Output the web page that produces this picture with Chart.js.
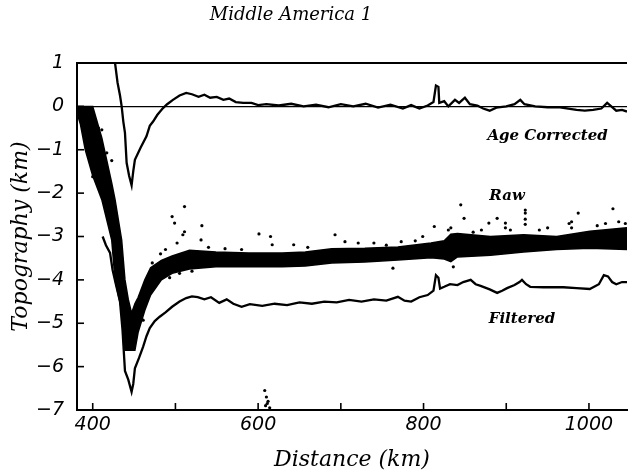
<!DOCTYPE html>
<html>
<head>
<meta charset="utf-8">
<script src="https://cdn.jsdelivr.net/npm/chart.js@4.4.1/dist/chart.umd.min.js"></script>
<style>
  html, body { margin: 0; padding: 0; background: #fff; }
</style>
</head>
<body>
<canvas id="topoChart" width="631" height="475"></canvas>
<script>
// axis ticks
const xTicks = [400, 500, 600, 700, 800, 900, 1000];
const xLabelTicks = [400, 600, 800, 1000];
const yTicks = [-7, -6, -5, -4, -3, -2, -1, 0, 1];

// Age Corrected curve
const ageKm = [427, 430, 433, 435, 437, 439, 441, 444, 447, 449, 451, 458, 465, 469, 473, 478, 485, 490, 497, 505, 513, 520, 528, 535, 542, 550, 558, 565, 573, 582, 592, 600, 610, 625, 640, 655, 670, 685, 700, 715, 730, 745, 760, 775, 785, 795, 805, 812, 815, 818, 819, 825, 830, 838, 843, 850, 856, 865, 872, 880, 888, 900, 910, 917, 922, 935, 950, 965, 975, 985, 995, 1005, 1015, 1022, 1027, 1033, 1040, 1046];
const ageVal = [1.0, 0.55, 0.25, 0.0, -0.35, -0.61, -1.3, -1.6, -1.82, -1.5, -1.23, -0.95, -0.69, -0.45, -0.35, -0.2, -0.04, 0.05, 0.15, 0.25, 0.31, 0.28, 0.22, 0.27, 0.2, 0.22, 0.15, 0.18, 0.1, 0.08, 0.08, 0.03, 0.05, 0.02, 0.06, 0.0, 0.04, -0.02, 0.05, 0.0, 0.06, -0.03, 0.04, -0.05, 0.03, -0.05, 0.02, 0.1, 0.48, 0.45, 0.08, 0.12, 0.0, 0.15, 0.08, 0.2, 0.05, 0.02, -0.05, -0.1, -0.03, 0.0, 0.05, 0.15, 0.05, 0.0, -0.02, -0.02, -0.05, -0.08, -0.1, -0.08, -0.05, 0.08, 0.0, -0.1, -0.08, -0.12];

// Filtered curve
const filtKm = [412, 416, 421, 424, 428, 433, 436, 439, 443, 447, 449, 451, 456, 461, 465, 469, 475, 481, 488, 496, 505, 513, 520, 527, 535, 543, 553, 562, 570, 580, 590, 605, 620, 635, 650, 665, 680, 695, 710, 725, 740, 755, 769, 777, 785, 795, 805, 812, 815, 818, 820, 825, 832, 841, 848, 857, 863, 869, 880, 889, 895, 901, 910, 916, 919, 924, 929, 945, 969, 985, 1001, 1012, 1018, 1023, 1028, 1033, 1040, 1046];
const filtVal = [-3.0, -3.2, -3.38, -3.77, -4.1, -4.5, -5.15, -6.1, -6.3, -6.58, -6.4, -6.04, -5.8, -5.54, -5.3, -5.11, -4.95, -4.85, -4.75, -4.62, -4.5, -4.42, -4.38, -4.4, -4.45, -4.4, -4.53, -4.45, -4.55, -4.62, -4.56, -4.6, -4.55, -4.58, -4.52, -4.55, -4.5, -4.52, -4.46, -4.5, -4.45, -4.48, -4.39, -4.48, -4.5, -4.4, -4.35, -4.25, -3.89, -3.95, -4.2, -4.16, -4.1, -4.12, -4.05, -4.0, -4.1, -4.14, -4.22, -4.3, -4.25, -4.19, -4.12, -4.05, -4.0, -4.1, -4.16, -4.17, -4.17, -4.19, -4.21, -4.1, -3.89, -3.92, -4.05, -4.1, -4.05, -4.05];

// Raw data: dense band (upper / lower edge) plus scattered soundings
const rawKm = [381, 385, 391, 400, 411, 423, 427, 435, 439, 443, 447, 451, 455, 463, 470, 483, 496, 517, 549, 589, 629, 657, 689, 729, 769, 809, 825, 833, 841, 881, 921, 961, 1001, 1046];
const rawUpper = [0, 0, 0, 0, -0.73, -1.77, -2.15, -3.08, -4.0, -4.45, -4.77, -4.55, -4.4, -4.0, -3.72, -3.55, -3.45, -3.32, -3.36, -3.38, -3.38, -3.36, -3.28, -3.27, -3.24, -3.15, -3.1, -2.95, -2.93, -3.0, -2.96, -3.0, -2.88, -2.8];
const rawLower = [-0.15, -0.4, -1.0, -1.6, -2.15, -3.08, -4.0, -4.7, -5.62, -5.62, -5.62, -5.62, -5.2, -4.7, -4.35, -4.0, -3.85, -3.75, -3.7, -3.7, -3.7, -3.68, -3.61, -3.59, -3.54, -3.49, -3.52, -3.58, -3.47, -3.43, -3.36, -3.3, -3.27, -3.3];
const outKm = [400, 401, 407, 411, 417, 423, 461, 472, 482, 488, 493, 496, 499, 502, 505, 509, 511, 511, 520, 531, 532, 540, 560, 580, 601, 615, 617, 643, 660, 693, 705, 721, 740, 755, 763, 773, 790, 799, 813, 830, 833, 836, 845, 849, 860, 870, 879, 889, 899, 899, 905, 923, 923, 923, 923, 940, 950, 976, 979, 979, 987, 1010, 1020, 1029, 1036, 1044, 608, 609, 610, 611, 612, 614];
const outVal = [-1.62, -1.46, -0.5, -0.54, -1.07, -1.25, -4.93, -3.61, -3.4, -3.3, -3.95, -2.54, -2.69, -3.15, -3.85, -2.96, -2.31, -2.89, -3.8, -3.08, -2.75, -3.25, -3.28, -3.3, -2.94, -3.0, -3.19, -3.19, -3.25, -2.96, -3.12, -3.15, -3.15, -3.2, -3.73, -3.12, -3.1, -3.0, -2.77, -2.85, -2.8, -3.7, -2.27, -2.58, -2.9, -2.85, -2.69, -2.58, -2.69, -2.8, -2.85, -2.39, -2.46, -2.6, -2.72, -2.85, -2.8, -2.7, -2.66, -2.8, -2.46, -2.75, -2.7, -2.36, -2.66, -2.7, -6.55, -6.9, -6.7, -6.85, -6.8, -6.95];

// curve labels
const curveLabels = ["Age Corrected", "Raw", "Filtered"];
const curveLabelKm = [950, 901, 919];
const curveLabelVal = [-0.68, -2.08, -4.9];

function toPoints(xs, ys) {
  return xs.map((x, i) => ({ x: x, y: ys[i] }));
}

const frame = {
  id: "frame",
  afterDraw(chart) {
    const { ctx, chartArea, scales } = chart;
    const x = scales.x;
    const y = scales.y;
    ctx.save();
    ctx.strokeStyle = "#000";
    ctx.lineWidth = 1.6;
    xTicks.forEach((v) => {
      const px = x.getPixelForValue(v);
      ctx.beginPath();
      ctx.moveTo(px, chartArea.bottom);
      ctx.lineTo(px, chartArea.bottom - 7);
      ctx.stroke();
    });
    yTicks.forEach((v) => {
      const py = y.getPixelForValue(v);
      ctx.beginPath();
      ctx.moveTo(chartArea.left, py);
      ctx.lineTo(chartArea.left + 7, py);
      ctx.stroke();
    });
    ctx.fillStyle = "#000";
    ctx.font = "italic bold 15px 'DejaVu Serif'";
    ctx.textAlign = "center";
    ctx.textBaseline = "middle";
    curveLabels.forEach((t, i) => {
      ctx.fillText(t, x.getPixelForValue(curveLabelKm[i]), y.getPixelForValue(curveLabelVal[i]));
    });
    ctx.font = "italic 18px 'DejaVu Serif'";
    ctx.fillText("Middle America 1", 291, 15);
    ctx.restore();
  },
};

const tickFont = { family: "'DejaVu Sans'", size: 19, style: "italic" };
const titleFont = { family: "'DejaVu Serif'", size: 22, style: "italic" };

new Chart(document.getElementById("topoChart"), {
  type: "scatter",
  data: {
    datasets: [
      {
        label: "Raw upper",
        data: toPoints(rawKm, rawUpper),
        showLine: true,
        borderColor: "#000",
        borderWidth: 1.5,
        pointRadius: 0,
        fill: false,
      },
      {
        label: "Raw lower",
        data: toPoints(rawKm, rawLower),
        showLine: true,
        borderColor: "#000",
        borderWidth: 1.5,
        backgroundColor: "#000",
        pointRadius: 0,
        fill: "-1",
      },
      {
        label: "Raw",
        data: toPoints(outKm, outVal),
        backgroundColor: "#000",
        borderColor: "#000",
        pointRadius: 1.6,
        pointBorderWidth: 0,
      },
      {
        label: "Age Corrected",
        data: toPoints(ageKm, ageVal),
        showLine: true,
        borderColor: "#000",
        borderWidth: 2.3,
        pointRadius: 0,
      },
      {
        label: "Filtered",
        data: toPoints(filtKm, filtVal),
        showLine: true,
        borderColor: "#000",
        borderWidth: 2.3,
        pointRadius: 0,
      },
    ],
  },
  options: {
    responsive: false,
    animation: false,
    layout: { padding: { top: 63, right: 0, bottom: 0, left: 0 } },
    plugins: {
      legend: { display: false },
      tooltip: { enabled: false },
      title: { display: false },
    },
    scales: {
      x: {
        type: "linear",
        min: 381,
        max: 1046,
        afterBuildTicks: (scale) => {
          scale.ticks = xTicks.map((v) => ({ value: v }));
        },
        afterFit: (scale) => {
          scale.height = 65;
        },
        ticks: {
          autoSkip: false,
          maxRotation: 0,
          color: "#000",
          font: tickFont,
          padding: 4,
          callback: (v) => (xLabelTicks.includes(v) ? String(v) : ""),
        },
        grid: { display: false, drawTicks: false },
        border: { display: true, color: "#000", width: 2 },
        title: {
          display: true,
          text: "Distance (km)",
          color: "#000",
          font: titleFont,
          padding: { top: 0, bottom: 2 },
        },
      },
      y: {
        type: "linear",
        min: -7,
        max: 1,
        afterBuildTicks: (scale) => {
          scale.ticks = yTicks.map((v) => ({ value: v }));
        },
        afterFit: (scale) => {
          scale.width = 77;
        },
        ticks: {
          color: "#000",
          font: tickFont,
          padding: 13,
          callback: (v) => String(v).replace("-", "\u2212"),
        },
        grid: {
          drawTicks: false,
          color: (c) => (c.tick && (c.tick.value === 0 || c.tick.value === 1) ? "#000" : "rgba(0,0,0,0)"),
          lineWidth: (c) => (c.tick && c.tick.value === 1 ? 2 : 1.3),
        },
        border: { display: true, color: "#000", width: 2 },
        title: {
          display: true,
          text: "Topography (km)",
          color: "#000",
          font: titleFont,
          padding: { top: 8, bottom: 0 },
        },
      },
    },
  },
  plugins: [frame],
});
</script>
</body>
</html>
